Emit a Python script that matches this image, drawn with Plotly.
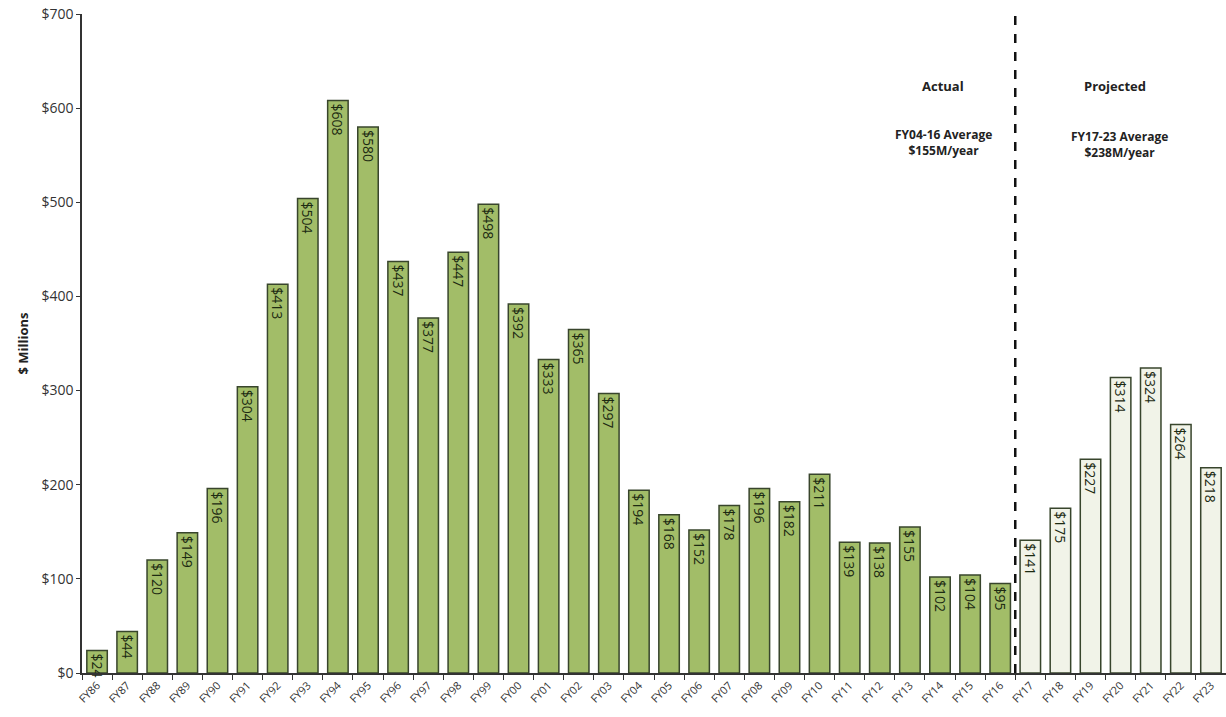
import plotly.graph_objects as go

years = ["FY86","FY87","FY88","FY89","FY90","FY91","FY92","FY93","FY94","FY95",
         "FY96","FY97","FY98","FY99","FY00","FY01","FY02","FY03","FY04","FY05",
         "FY06","FY07","FY08","FY09","FY10","FY11","FY12","FY13","FY14","FY15","FY16",
         "FY17","FY18","FY19","FY20","FY21","FY22","FY23"]
values = [24, 44, 120, 149, 196, 304, 413, 504, 608, 580,
          437, 377, 447, 498, 392, 333, 365, 297, 194, 168,
          152, 178, 196, 182, 211, 139, 138, 155, 102, 104, 95,
          141, 175, 227, 314, 324, 264, 218]
n_actual = 31

actual_x = years[:n_actual]
actual_y = values[:n_actual]
proj_x = years[n_actual:]
proj_y = values[n_actual:]

FONT = "Open Sans"

fig = go.Figure()
fig.add_trace(go.Bar(
    x=actual_x, y=actual_y,
    text=[f"${v}" for v in actual_y],
    textposition="inside", insidetextanchor="end", textangle=90,
    textfont=dict(family=FONT, size=14, color="#1c2a12"),
    marker=dict(color="#a2bd68", line=dict(color="#38452c", width=1.5)),
    showlegend=False, cliponaxis=False,
))
fig.add_trace(go.Bar(
    x=proj_x, y=proj_y,
    text=[f"${v}" for v in proj_y],
    textposition="inside", insidetextanchor="end", textangle=90,
    textfont=dict(family=FONT, size=14, color="#1c2a12"),
    marker=dict(color="#f1f3e8", line=dict(color="#38452c", width=1.5)),
    showlegend=False, cliponaxis=False,
))

# dashed divider between FY16 and FY17
fig.add_shape(type="line", xref="x", yref="paper",
              x0=n_actual - 0.5, x1=n_actual - 0.5, y0=0, y1=1,
              line=dict(color="#111111", width=2.5, dash="dash"))

ann_font = dict(family=FONT, size=13, color="#222222")
fig.add_annotation(x=28.1, y=624, xref="x", yref="y", text="<b>Actual</b>",
                   showarrow=False, font=ann_font)
fig.add_annotation(x=28.1, y=563, xref="x", yref="y",
                   text="<b>FY04-16 Average<br>$155M/year</b>",
                   showarrow=False, font=dict(family=FONT, size=12, color="#222222"))
fig.add_annotation(x=33.8, y=624, xref="x", yref="y", text="<b>Projected</b>",
                   showarrow=False, font=ann_font)
fig.add_annotation(x=33.95, y=561, xref="x", yref="y",
                   text="<b>FY17-23 Average<br>$238M/year</b>",
                   showarrow=False, font=dict(family=FONT, size=12, color="#222222"))

fig.update_layout(
    width=1226, height=717,
    margin=dict(l=82, r=0, t=14, b=44),
    plot_bgcolor="white", paper_bgcolor="white",
    bargap=0.32,
    uniformtext=dict(minsize=14, mode="show"),
    font=dict(family=FONT, color="#333333"),
)
fig.update_xaxes(
    type="category", tickangle=-45,
    tickfont=dict(family=FONT, size=11, color="#333333"),
    showline=True, linecolor="#333333", linewidth=1.5,
    ticks="outside", ticklen=5, tickcolor="#333333", tickson="boundaries",
    showgrid=False, range=[-0.5, len(years) - 0.5],
)
fig.update_yaxes(
    range=[0, 700], dtick=100, tickprefix="$",
    tickfont=dict(family=FONT, size=14, color="#333333"),
    showline=True, linecolor="#333333", linewidth=1.5,
    ticks="outside", ticklen=4, tickcolor="#333333",
    showgrid=False, zeroline=False,
    title=dict(text="<b>$ Millions</b>", font=dict(family=FONT, size=13, color="#222222"), standoff=10),
)

fig.write_html("out.html")
